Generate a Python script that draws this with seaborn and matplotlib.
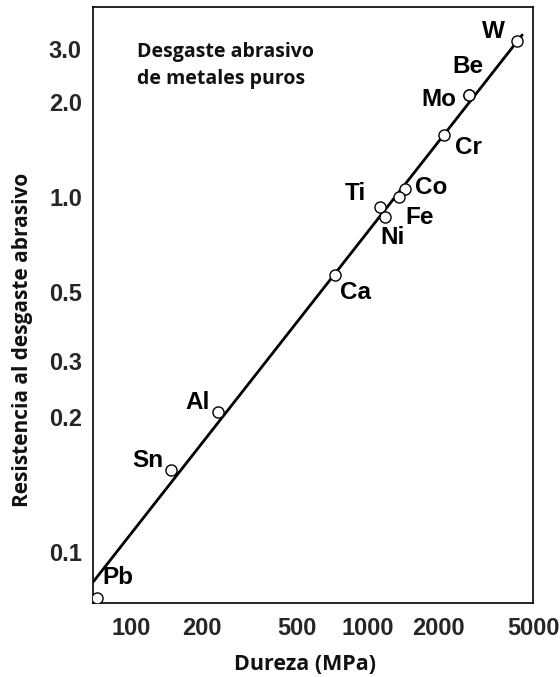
import numpy as np
import matplotlib
matplotlib.use("Agg")
import matplotlib.pyplot as plt
import seaborn as sns

# Abrasive wear resistance of pure metals versus hardness
metals = ["W", "Be", "Mo", "Cr", "Co", "Fe", "Ti", "Ni", "Ca", "Al", "Sn", "Pb"]
hardness_mpa = [4280, 2680, 2680, 2100, 1435, 1355, 1125, 1180, 725, 234, 148, 72]
wear_resistance = [3.2, 2.11, 2.11, 1.57, 1.06, 1.0, 0.93, 0.866, 0.567, 0.207, 0.152, 0.079]

# Straight trend line through the data (end points)
trend_hardness = [69, 4500]
trend_resistance = [0.0856, 3.35]

x_ticks = [100, 200, 500, 1000, 2000, 5000]
x_tick_labels = ["100", "200", "500", "1000", "2000", "5000"]
y_ticks = [0.1, 0.2, 0.3, 0.5, 1.0, 2.0, 3.0]
y_tick_labels = ["0.1", "0.2", "0.3", "0.5", "1.0", "2.0", "3.0"]

# Label offsets (pixels) relative to each point
label_offsets = {
    "W": (-24, 9), "Be": (-1, 28), "Mo": (-30, -5), "Cr": (25, -12),
    "Co": (26, 2), "Fe": (21, -20), "Ti": (-24, 14), "Ni": (8, -20),
    "Ca": (21, -17), "Al": (-21, 10), "Sn": (-24, 10), "Pb": (21, 20),
}

# Printed logarithmic axis: spacing between the tick marks as drawn
_knot_vals = np.log10(y_ticks)
_knot_pos = -np.array([551.7, 416.7, 360.7, 292.3, 197.3, 101.7, 49.3])
_s_lo = (_knot_pos[1] - _knot_pos[0]) / (_knot_vals[1] - _knot_vals[0])
_s_hi = (_knot_pos[-1] - _knot_pos[-2]) / (_knot_vals[-1] - _knot_vals[-2])


def _fwd(y):
    y = np.asarray(y, dtype=float)
    l = np.log10(np.clip(y, 1e-12, None))
    out = np.interp(l, _knot_vals, _knot_pos)
    out = np.where(l < _knot_vals[0], _knot_pos[0] + (l - _knot_vals[0]) * _s_lo, out)
    out = np.where(l > _knot_vals[-1], _knot_pos[-1] + (l - _knot_vals[-1]) * _s_hi, out)
    return out


def _inv(p):
    p = np.asarray(p, dtype=float)
    l = np.interp(p, _knot_pos, _knot_vals)
    l = np.where(p < _knot_pos[0], _knot_vals[0] + (p - _knot_pos[0]) / _s_lo, l)
    l = np.where(p > _knot_pos[-1], _knot_vals[-1] + (p - _knot_pos[-1]) / _s_hi, l)
    return 10 ** l


sns.set_theme(style="white")
plt.rcParams["font.family"] = ["Liberation Sans", "DejaVu Sans"]

fig = plt.figure(figsize=(5.6, 6.77), dpi=100)
ax = fig.add_axes([93 / 560, 1 - 603 / 677, 440 / 560, 596 / 677])

ax.set_xscale("log")
ax.set_yscale("function", functions=(_fwd, _inv))

sns.lineplot(x=trend_hardness, y=trend_resistance, ax=ax, color="black",
             linewidth=2.0, zorder=2, sort=False)
sns.scatterplot(x=hardness_mpa, y=wear_resistance, ax=ax, marker="o", s=64,
                facecolor="white", edgecolor="black", linewidth=1.0, zorder=3)

for name, hx, wy in zip(metals, hardness_mpa, wear_resistance):
    dx, dy = label_offsets[name]
    ax.annotate(name, (hx, wy), xytext=(dx, dy), textcoords="offset pixels",
                ha="center", va="center", fontsize=17.5, fontweight="bold",
                color="black", zorder=4)

ax.set_xlim(69, 5000)
ax.set_ylim(0.0769, 4.16)

ax.set_xticks(x_ticks)
ax.set_xticklabels(x_tick_labels)
ax.xaxis.set_minor_locator(matplotlib.ticker.NullLocator())
ax.set_yticks(y_ticks)
ax.set_yticklabels(y_tick_labels)
ax.yaxis.set_minor_locator(matplotlib.ticker.NullLocator())

ax.tick_params(axis="both", which="major", direction="in", length=11,
               width=1.0, color="black", labelsize=17, pad=9)
for lab in ax.get_xticklabels() + ax.get_yticklabels():
    lab.set_fontweight("bold")
ax.tick_params(axis="x", pad=10, top=False)
ax.tick_params(axis="y", pad=8, right=False)

for side in ["left", "right", "top", "bottom"]:
    ax.spines[side].set_visible(True)
    ax.spines[side].set_color("black")
    ax.spines[side].set_linewidth(1.2)

ax.set_xlabel("Dureza (MPa)", fontfamily="Open Sans", fontweight="bold",
              fontsize=15.5, color="#111111")
ax.set_ylabel("Resistencia al desgaste abrasivo", fontfamily="Open Sans",
              fontweight="bold", fontsize=15, color="#111111")
ax.xaxis.set_label_coords(0.482, -0.085)
ax.yaxis.set_label_coords(-0.137, 0.441)

fig.text(137 / 560, 1 - 42 / 677, "Desgaste abrasivo\nde metales puros",
         ha="left", va="top", fontfamily="Open Sans", fontweight="bold",
         fontsize=14, color="#111111", linespacing=1.45)

fig.savefig("out.png", dpi=100)
